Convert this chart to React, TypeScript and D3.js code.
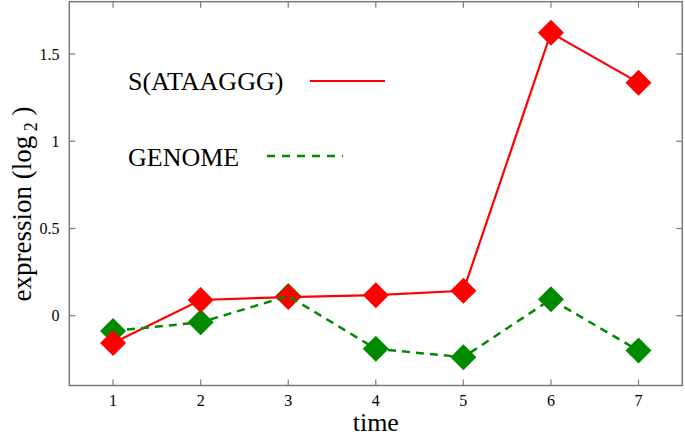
import React from "react";
import * as d3 from "d3";

const times = [1, 2, 3, 4, 5, 6, 7];
const motifValues = [-0.156, 0.09, 0.107, 0.118, 0.143, 1.622, 1.336];
const genomeValues = [-0.087, -0.038, 0.113, -0.19, -0.238, 0.094, -0.2];
const xTicks = [1, 2, 3, 4, 5, 6, 7];
const yTicks = [0, 0.5, 1, 1.5];
const yTickLabels = ["0", "0.5", "1", "1.5"];
const seriesNames = ["S(ATAAGGG)", "GENOME"];

const W = 685;
const H = 436;
const L = 69.3, R = 682.3, T = 1.7, B = 385.5;
const FONT = "Liberation Serif, Times New Roman, Times, DejaVu Serif, serif";
const ts = { fontFamily: FONT };

export default function App() {
  const x = d3.scaleLinear().domain([0.5, 7.5]).range([L, R]);
  const y = d3.scaleLinear().domain([-0.4, 1.8]).range([B, T]);
  const line = d3
    .line<number>()
    .x((_, i) => x(times[i]))
    .y((d) => y(d));
  const diamond = (cx: number, cy: number, r = 13) =>
    `M${cx},${cy - r}L${cx + r},${cy}L${cx},${cy + r}L${cx - r},${cy}Z`;
  const red = "#ff0000";
  const green = "#008a00";
  const axisColor = "#7a7a7a";
  const tickLen = 6;

  return (
    <svg
      width={W}
      height={H}
      style={{ position: "absolute", left: 0, top: 0, background: "#fff", fontFamily: FONT }}
    >
      <rect x={0} y={0} width={W} height={H} fill="#fff" />
      <rect x={L} y={T} width={R - L} height={B - T} fill="none" stroke={axisColor} strokeWidth={1.5} />
      {xTicks.map((t) => (
        <g key={"xt" + t}>
          <line x1={x(t)} x2={x(t)} y1={B} y2={B - tickLen} stroke={axisColor} strokeWidth={1.2} />
          <line x1={x(t)} x2={x(t)} y1={T} y2={T + tickLen} stroke={axisColor} strokeWidth={1.2} />
          <text x={x(t)} y={406} textAnchor="middle" fontSize={16} fill="#000" style={ts}>
            {t}
          </text>
        </g>
      ))}
      {yTicks.map((t, i) => (
        <g key={"yt" + t}>
          <line x1={L} x2={L + tickLen} y1={y(t)} y2={y(t)} stroke={axisColor} strokeWidth={1.2} />
          <line x1={R} x2={R - tickLen} y1={y(t)} y2={y(t)} stroke={axisColor} strokeWidth={1.2} />
          <text x={59.5} y={y(t) + 5.5} textAnchor="end" fontSize={16} fill="#000" style={ts}>
            {yTickLabels[i]}
          </text>
        </g>
      ))}
      <text x={(L + R) / 2} y={431} textAnchor="middle" fontSize={26} fill="#000" style={ts}>
        time
      </text>
      <text
        transform={`translate(31,204) rotate(-90)`}
        textAnchor="middle"
        fontSize={27}
        fill="#000"
        style={ts}
      >
        expression (log
        <tspan fontSize={18} dy={6}> 2</tspan>
        <tspan dy={-6}> )</tspan>
      </text>

      {genomeValues.map((v, i) => (
        <path key={"gm" + i} d={diamond(x(times[i]), y(v))} fill={green} />
      ))}
      <path d={line(motifValues) || ""} fill="none" stroke={red} strokeWidth={2.2} />
      {motifValues.map((v, i) => (
        <path key={"rm" + i} d={diamond(x(times[i]), y(v))} fill={red} />
      ))}
      <path
        d={line(genomeValues) || ""}
        fill="none"
        stroke={green}
        strokeWidth={2.5}
        strokeDasharray="8,6"
      />

      <text x={128} y={90} fontSize={26} fill="#000" style={ts}>
        {seriesNames[0]}
      </text>
      <line x1={310} x2={385} y1={81} y2={81} stroke={red} strokeWidth={2.2} />
      <text x={128} y={166} fontSize={26} fill="#000" style={ts}>
        {seriesNames[1]}
      </text>
      <line
        x1={267}
        x2={343}
        y1={156}
        y2={156}
        stroke={green}
        strokeWidth={2.5}
        strokeDasharray="8,7"
      />
    </svg>
  );
}
